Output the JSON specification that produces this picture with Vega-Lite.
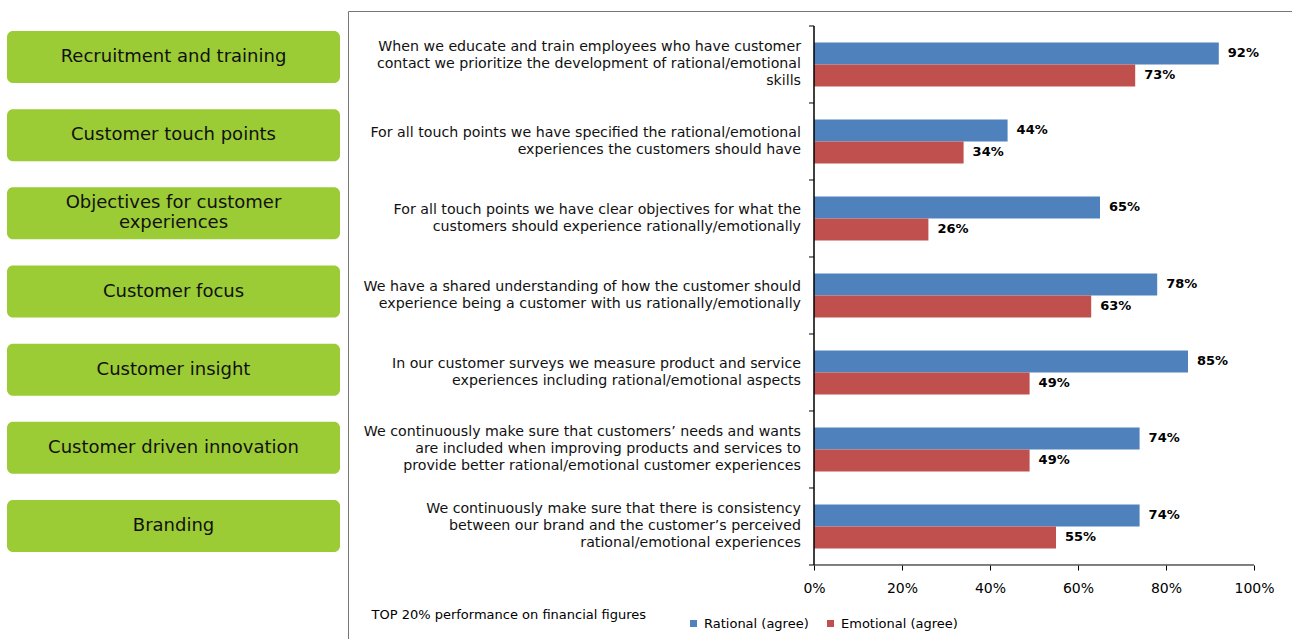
{
  "$schema": "https://vega.github.io/schema/vega-lite/v6.json",
  "padding": {"left": 7, "top": 10, "right": 0, "bottom": 0},
  "config": {
    "font": "DejaVu Sans",
    "view": {"stroke": null},
    "concat": {"spacing": 7}
  },
  "resolve": {"scale": {"x": "independent", "y": "independent"}},
  "datasets": {
    "areas": [
      {"area": "Recruitment and training"},
      {"area": "Customer touch points"},
      {"area": "Objectives for customer|experiences"},
      {"area": "Customer focus"},
      {"area": "Customer insight"},
      {"area": "Customer driven innovation"},
      {"area": "Branding"}
    ],
    "scores": [
      {"question": "When we educate and train employees who have customer|contact we prioritize the development of rational/emotional|skills", "series": "Rational (agree)", "value": 0.92},
      {"question": "When we educate and train employees who have customer|contact we prioritize the development of rational/emotional|skills", "series": "Emotional (agree)", "value": 0.73},
      {"question": "For all touch points we have specified the rational/emotional|experiences the customers should have", "series": "Rational (agree)", "value": 0.44},
      {"question": "For all touch points we have specified the rational/emotional|experiences the customers should have", "series": "Emotional (agree)", "value": 0.34},
      {"question": "For all touch points we have clear objectives for what the|customers should experience rationally/emotionally", "series": "Rational (agree)", "value": 0.65},
      {"question": "For all touch points we have clear objectives for what the|customers should experience rationally/emotionally", "series": "Emotional (agree)", "value": 0.26},
      {"question": "We have a shared understanding of how the customer should|experience being a customer with us rationally/emotionally", "series": "Rational (agree)", "value": 0.78},
      {"question": "We have a shared understanding of how the customer should|experience being a customer with us rationally/emotionally", "series": "Emotional (agree)", "value": 0.63},
      {"question": "In our customer surveys we measure product and service|experiences including rational/emotional aspects", "series": "Rational (agree)", "value": 0.85},
      {"question": "In our customer surveys we measure product and service|experiences including rational/emotional aspects", "series": "Emotional (agree)", "value": 0.49},
      {"question": "We continuously make sure that customers’ needs and wants|are included when improving products and services to|provide better rational/emotional customer experiences", "series": "Rational (agree)", "value": 0.74},
      {"question": "We continuously make sure that customers’ needs and wants|are included when improving products and services to|provide better rational/emotional customer experiences", "series": "Emotional (agree)", "value": 0.49},
      {"question": "We continuously make sure that there is consistency|between our brand and the customer’s perceived|rational/emotional experiences", "series": "Rational (agree)", "value": 0.74},
      {"question": "We continuously make sure that there is consistency|between our brand and the customer’s perceived|rational/emotional experiences", "series": "Emotional (agree)", "value": 0.55}
    ]
  },
  "hconcat": [
    {
      "width": 333,
      "height": 628,
      "data": {"name": "areas"},
      "encoding": {
        "y": {"field": "area", "type": "nominal", "sort": null, "axis": null,
              "scale": {"paddingInner": 0.3348, "paddingOuter": 0.6845, "align": 0.187}}
      },
      "layer": [
        {
          "mark": {"type": "rect", "fill": "#9BCB35", "cornerRadius": 6},
          "encoding": {
            "x": {"datum": 0, "type": "quantitative", "scale": {"domain": [0, 1]}, "axis": null},
            "x2": {"datum": 1}
          }
        },
        {
          "transform": [{"filter": "indexof(datum.area, '|') < 0"}],
          "mark": {"type": "text", "fontSize": 18, "color": "#111111", "baseline": "middle", "align": "center"},
          "encoding": {
            "x": {"datum": 0.5, "type": "quantitative"},
            "text": {"field": "area"}
          }
        },
        {
          "transform": [{"filter": "indexof(datum.area, '|') >= 0"}],
          "mark": {"type": "text", "fontSize": 18, "color": "#111111", "lineBreak": "|", "lineHeight": 20, "baseline": "middle", "align": "center", "dy": -10},
          "encoding": {
            "x": {"datum": 0.5, "type": "quantitative"},
            "text": {"field": "area"}
          }
        }
      ]
    },
    {
      "width": 944,
      "height": 628,
      "view": {"stroke": "#777777", "strokeWidth": 1},
      "data": {"name": "scores"},
      "encoding": {
        "y": {"field": "question", "type": "nominal", "sort": null, "axis": null,
              "scale": {"paddingInner": 0, "paddingOuter": 0.5779, "align": 0.1685}}
      },
      "layer": [
        {
          "mark": {"type": "bar"},
          "encoding": {
            "x": {
              "field": "value", "type": "quantitative",
              "scale": {"domain": [-1.05909, 1.08636], "nice": false, "zero": false},
              "axis": {
                "values": [0, 0.2, 0.4, 0.6, 0.8, 1],
                "format": ".0%",
                "offset": -74,
                "domain": false,
                "grid": false,
                "tickColor": "#000000",
                "tickSize": 5,
                "labelFontSize": 14,
                "labelColor": "#000000",
                "labelPadding": 11,
                "labelFlush": false,
                "title": "TOP 20% performance on financial figures",
                "titleX": 23,
                "titleY": 49,
                "titleAlign": "left",
                "titleAnchor": null,
                "titleBaseline": "middle",
                "titleFontSize": 13,
                "titleFontWeight": "normal",
                "titleColor": "#000000"
              }
            },
            "x2": {"datum": 0},
            "yOffset": {"field": "series", "type": "nominal", "sort": ["Rational (agree)", "Emotional (agree)"],
                        "scale": {"paddingInner": 0, "paddingOuter": 0.75}},
            "color": {
              "field": "series", "type": "nominal",
              "scale": {"domain": ["Rational (agree)", "Emotional (agree)"], "range": ["#4F81BD", "#C0504D"]},
              "legend": {
                "orient": "none",
                "legendX": 680,
                "legendY": 606,
                "direction": "horizontal",
                "gridAlign": "none",
                "title": null,
                "symbolType": "square",
                "symbolSize": 49,
                "symbolStrokeWidth": 0,
                "labelFontSize": 13,
                "labelColor": "#000000",
                "columnPadding": 15,
                "labelOffset": 4,
                "padding": 0
              }
            }
          }
        },
        {
          "mark": {"type": "text", "align": "left", "baseline": "middle", "dx": 9, "fontSize": 13, "fontWeight": "bold", "color": "#000000"},
          "encoding": {
            "x": {"field": "value", "type": "quantitative"},
            "yOffset": {"field": "series", "type": "nominal", "sort": ["Rational (agree)", "Emotional (agree)"]},
            "text": {"field": "value", "type": "quantitative", "format": ".0%"}
          }
        },
        {
          "transform": [{"filter": "datum.series === 'Rational (agree)' && length(split(datum.question, '|')) === 2"}],
          "mark": {"type": "text", "align": "right", "baseline": "middle", "dx": -13, "dy": -8.5, "fontSize": 14.2, "lineBreak": "|", "lineHeight": 17, "color": "#111111"},
          "encoding": {
            "x": {"datum": 0, "type": "quantitative"},
            "text": {"field": "question"}
          }
        },
        {
          "transform": [{"filter": "datum.series === 'Rational (agree)' && length(split(datum.question, '|')) === 3"}],
          "mark": {"type": "text", "align": "right", "baseline": "middle", "dx": -13, "dy": -17, "fontSize": 14.2, "lineBreak": "|", "lineHeight": 17, "color": "#111111"},
          "encoding": {
            "x": {"datum": 0, "type": "quantitative"},
            "text": {"field": "question"}
          }
        },
        {
          "transform": [{"filter": "datum.series === 'Rational (agree)'"}],
          "mark": {"type": "rect", "fill": null, "stroke": "#000000", "strokeWidth": 1},
          "encoding": {
            "x": {"datum": 0, "type": "quantitative"},
            "x2": {"datum": 0}
          }
        },
        {
          "transform": [{"filter": "datum.series === 'Rational (agree)'"}],
          "mark": {"type": "rule", "color": "#000000", "strokeWidth": 1},
          "encoding": {
            "x": {"datum": -0.011364, "type": "quantitative"},
            "x2": {"datum": 0},
            "y": {"field": "question", "type": "nominal", "sort": null, "bandPosition": 0}
          }
        },
        {
          "transform": [{"filter": "datum.series === 'Rational (agree)' && indexof(datum.question, 'consistency') >= 0"}],
          "mark": {"type": "rule", "color": "#000000", "strokeWidth": 1},
          "encoding": {
            "x": {"datum": -0.011364, "type": "quantitative"},
            "x2": {"datum": 1},
            "y": {"field": "question", "type": "nominal", "sort": null, "bandPosition": 1}
          }
        }
      ]
    }
  ]
}
